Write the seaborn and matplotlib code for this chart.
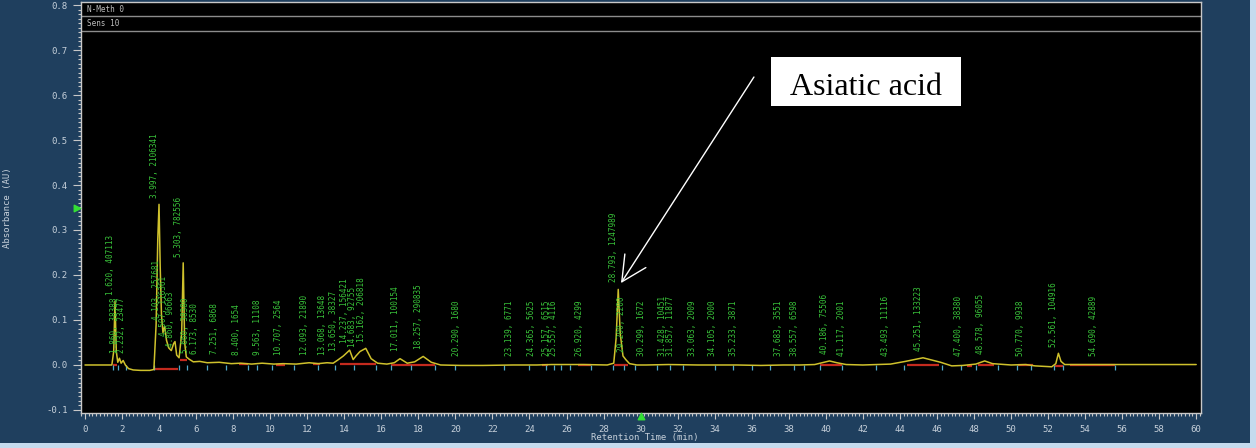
import matplotlib
matplotlib.use("Agg")
import matplotlib.pyplot as plt
from matplotlib.patches import Rectangle
from matplotlib.ticker import MultipleLocator, FormatStrFormatter
import seaborn as sns

# ---- chromatogram trace (retention time in min, absorbance in AU) ----
trace_time = [0.0, 1.45, 1.55, 1.62, 1.69, 1.77, 1.86, 1.95, 2.06, 2.18, 2.35, 2.6, 3.0, 3.5,
              3.72, 3.84, 3.93, 3.997, 4.06, 4.13, 4.21, 4.30, 4.40, 4.52, 4.66, 4.79, 4.86,
              4.95, 5.08, 5.22, 5.303, 5.38, 5.47, 5.62, 5.85, 6.2, 6.6, 7.25, 7.9, 8.4, 9.0,
              9.56, 10.2, 10.7, 11.4, 12.1, 12.6, 13.07, 13.4, 13.65, 13.95, 14.29, 14.48,
              14.63, 14.85, 15.16, 15.45, 15.8, 16.3, 16.7, 17.01, 17.4, 17.8, 18.26, 18.7,
              19.2, 20.3, 21.5, 23.1, 24.4, 25.2, 26.9, 28.2, 28.55, 28.68, 28.793, 28.9,
              29.05, 29.2, 29.4, 29.8, 30.3, 31.5, 33.1, 34.1, 35.2, 36.5, 37.7, 38.6, 39.4,
              39.8, 40.2, 40.6, 41.1, 42.0, 43.5, 44.3, 45.25, 46.2, 46.8, 47.4, 48.1, 48.58,
              49.0, 50.0, 50.8, 51.3, 52.2, 52.42, 52.56, 52.7, 52.9, 53.5, 54.0, 55.6, 60.0]
trace_abs = [0.0, 0.0, 0.03, 0.142, 0.03, 0.006, 0.015, 0.004, 0.010, 0.0, -0.008, -0.011,
             -0.012, -0.012, -0.010, 0.09, 0.28, 0.357, 0.22, 0.11, 0.072, 0.086, 0.055, 0.038,
             0.032, 0.048, 0.052, 0.022, 0.016, 0.07, 0.227, 0.05, 0.018, 0.013, 0.007, 0.008,
             0.005, 0.006, 0.003, 0.004, 0.002, 0.004, 0.002, 0.003, 0.002, 0.005, 0.003,
             0.005, 0.004, 0.011, 0.02, 0.033, 0.012, 0.02, 0.03, 0.037, 0.014, 0.004, 0.002,
             0.005, 0.014, 0.004, 0.007, 0.019, 0.006, 0.0, -0.001, -0.001, 0.0, 0.0, 0.001,
             0.001, 0.0, 0.004, 0.06, 0.168, 0.07, 0.02, 0.012, 0.003, 0.0, 0.0, 0.001, 0.0,
             0.0, 0.0, -0.001, 0.0, 0.0, 0.001, 0.005, 0.009, 0.005, 0.001, 0.0, 0.002, 0.008,
             0.016, 0.006, -0.002, -0.001, 0.002, 0.009, 0.003, 0.0, 0.001, -0.002, -0.004,
             0.003, 0.026, 0.008, 0.001, 0.001, 0.001, 0.001, 0.001]

# ---- integration baselines drawn under the peaks ----
base_start = [1.52, 3.72, 5.12, 8.3, 10.3, 12.3, 13.75, 16.5, 24.7, 26.6, 28.55, 39.7, 44.4,
              47.6, 48.2, 50.4, 52.35, 53.2]
base_end = [1.75, 5.0, 5.5, 8.8, 10.8, 12.7, 15.7, 18.9, 25.0, 27.3, 29.3, 40.9, 46.1,
            47.9, 49.1, 51.2, 52.8, 55.6]
base_level = [0.0, -0.008, 0.012, 0.002, 0.001, 0.002, 0.002, 0.001, 0.0, 0.0, 0.0, 0.0, 0.0,
              -0.002, 0.0, -0.001, -0.002, 0.001]

# ---- peak start / end markers ----
marker_time = [1.5, 1.76, 2.2, 3.7, 5.1, 5.5, 6.6, 7.6, 8.8, 9.3, 10.1, 11.3, 12.6, 13.5, 14.5,
               15.7, 16.5, 17.6, 18.9, 20.0, 22.6, 24.0, 24.9, 25.3, 25.7, 26.2, 27.3, 28.5,
               29.1, 29.7, 30.9, 31.6, 32.3, 34.0, 35.0, 36.0, 37.0, 38.3, 38.8, 39.7, 40.9,
               42.7, 44.2, 46.3, 47.3, 48.1, 49.3, 50.3, 51.1, 52.3, 52.8, 55.6]

# ---- peak labels: retention time, area, height of the label foot ----
label_rt = [1.620, 1.860, 2.232, 3.997, 4.103, 4.507, 4.860, 5.303, 5.660, 6.173, 7.251,
            8.400, 9.563, 10.707, 12.093, 13.068, 13.650, 14.237, 14.683, 15.162, 17.011,
            18.257, 20.290, 23.139, 24.365, 25.157, 25.557, 26.920, 28.793, 29.200, 30.299,
            31.428, 31.857, 33.063, 34.105, 35.233, 37.683, 38.557, 40.186, 41.117, 43.493,
            45.251, 47.400, 48.578, 50.770, 52.561, 54.690]
label_area = ["407113", "38388", "23477", "2106341", "257681", "116361", "96663", "782556",
              "38380", "8530", "6868", "1654", "11108", "2564", "21890", "13648", "38327",
              "156421", "92755", "206818", "100154", "290835", "1680", "6771", "5625", "6515",
              "4116", "4299", "1247989", "2200", "1672", "10451", "11877", "2009", "2000",
              "3871", "3551", "6598", "75506", "2001", "11116", "133223", "38380", "96055",
              "9938", "104916", "42889"]
label_foot = [0.155, 0.027, 0.027, 0.372, 0.10, 0.064, 0.04, 0.24, 0.027, 0.025, 0.025,
              0.022, 0.022, 0.022, 0.022, 0.022, 0.03, 0.048, 0.04, 0.052, 0.03, 0.035, 0.02,
              0.02, 0.02, 0.02, 0.02, 0.02, 0.185, 0.028, 0.02, 0.02, 0.02, 0.02, 0.02, 0.02,
              0.02, 0.02, 0.024, 0.02, 0.02, 0.031, 0.02, 0.024, 0.02, 0.041, 0.02]

header_lines = ["N-Meth 0", "Sens 10"]

PANEL = "#1f3f5e"
FRAME = "#c5dbee"
TEXT = "#c6d0da"

sns.set_style("dark")
plt.rcParams["font.family"] = ["DejaVu Sans Mono", "DejaVu Sans"]

fig = plt.figure(figsize=(12.56, 4.48), dpi=100, facecolor=FRAME)
fig.patches.append(Rectangle((0, 5 / 448), 1250 / 1256, 1 - 5 / 448,
                             transform=fig.transFigure, facecolor=PANEL,
                             edgecolor="none", zorder=-10))

ax = fig.add_axes([81 / 1256, 1 - 413 / 448, 1120 / 1256, 411 / 448])
ax.set_facecolor("black")

# integration baselines and boundary ticks
for t0, t1, lv in zip(base_start, base_end, base_level):
    ax.plot([t0, t1], [lv, lv], color="#c42a1e", lw=1.6, zorder=2, solid_capstyle="butt")
ax.vlines(marker_time, -0.012, 0.0, color="#4fa9c9", lw=0.9, zorder=3)

# detector trace
sns.lineplot(x=trace_time, y=trace_abs, ax=ax, color="#cfc12c", lw=1.1,
             estimator=None, sort=False, zorder=4)

# peak annotations
for rt, area, foot in zip(label_rt, label_area, label_foot):
    ax.text(rt, foot, f"{rt:.3f}, {area}", rotation=90, ha="right", va="bottom",
            color="#39c43a", fontsize=5.5, zorder=5)

# method header strips
ax.axhline(0.7756, color="#8c8c8c", lw=1.0)
ax.axhline(0.7422, color="#8c8c8c", lw=1.0)
ax.text(0.12, 0.790, header_lines[0], color="#bdbdbd", fontsize=5.5, va="center")
ax.text(0.12, 0.758, header_lines[1], color="#bdbdbd", fontsize=5.5, va="center")

# compound callout
ax.add_patch(Rectangle((37.04, 0.5756), 10.26, 0.1088, facecolor="white",
                       edgecolor="none", zorder=6))
ax.text(42.17, 0.600, "Asiatic acid", family="Liberation Serif", fontsize=23,
        color="black", ha="center", va="baseline", zorder=7)
ax.annotate("", xy=(28.94, 0.182), xytext=(36.12, 0.640),
            arrowprops=dict(arrowstyle="->,head_length=1.0,head_width=0.5",
                            color="white", lw=1.0, mutation_scale=18,
                            shrinkA=0, shrinkB=0), zorder=7)

# axis cursors
ax.scatter([-0.42], [0.349], marker=">", s=22, color="#35e035", clip_on=False, zorder=8)
ax.scatter([30.0], [-0.114], marker="^", s=22, color="#35e035", clip_on=False, zorder=8)

ax.set_xlim(-0.216, 60.26)
ax.set_ylim(-0.1067, 0.8067)
ax.xaxis.set_major_locator(MultipleLocator(2))
ax.xaxis.set_minor_locator(MultipleLocator(0.2))
ax.yaxis.set_major_locator(MultipleLocator(0.1))
ax.yaxis.set_minor_locator(MultipleLocator(0.01))
ax.xaxis.set_major_formatter(FormatStrFormatter("%d"))
ax.yaxis.set_major_formatter(FormatStrFormatter("%.1f"))
ax.tick_params(axis="both", which="both", direction="out", colors="#c8c8c8",
               labelcolor=TEXT, labelsize=6.5, width=0.8, bottom=True, left=True)
ax.tick_params(axis="x", which="major", length=4.5, pad=4)
ax.tick_params(axis="x", which="minor", length=2.2)
ax.tick_params(axis="y", which="major", length=5.5, pad=4)
ax.tick_params(axis="y", which="minor", length=2.5)
ax.grid(False)
for sp in ax.spines.values():
    sp.set_visible(True)
    sp.set_color("#c8c8c8")
    sp.set_linewidth(1.0)

ax.set_xlabel("Retention Time (min)", color=TEXT, fontsize=6.5)
ax.xaxis.set_label_coords((645 - 81) / 1120, -(433 - 413) / 411)
ax.set_ylabel("Absorbance (AU)", color=TEXT, fontsize=6.5)
ax.yaxis.set_label_coords(-(81 - 12) / 1120, 0.5)

fig.savefig("out.png", dpi=100, facecolor=FRAME)
